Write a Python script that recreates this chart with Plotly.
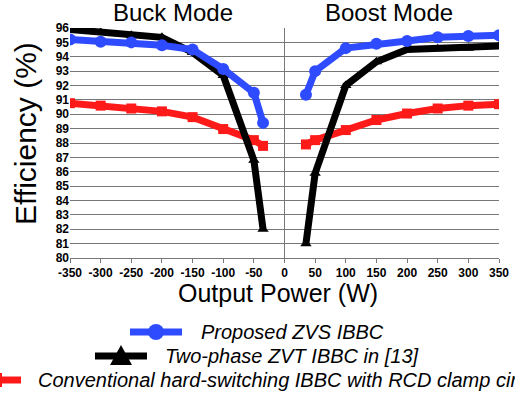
import plotly.graph_objects as go

buck_p = [-350, -300, -250, -200, -150, -100, -50, -35]
boost_p = [35, 50, 100, 150, 200, 250, 300, 350]

prop_buck = [95.2, 95.05, 95.0, 94.8, 94.5, 93.15, 91.5, 89.4]
prop_boost = [91.35, 93.0, 94.6, 94.9, 95.1, 95.35, 95.45, 95.5]

zvt_buck = [95.9, 95.7, 95.5, 95.35, 94.3, 92.7, 86.8, 82.0]
zvt_boost = [81.0, 85.9, 92.0, 93.65, 94.5, 94.55, 94.6, 94.75]

hard_buck = [90.77, 90.6, 90.4, 90.2, 89.8, 88.97, 88.2, 87.8]
hard_boost = [87.9, 88.2, 88.9, 89.6, 90.05, 90.4, 90.6, 90.7]

names = ["Proposed ZVS IBBC", "Two-phase ZVT IBBC in [13]",
         "Conventional hard-switching IBBC with RCD clamp circuit"]
y_ticks = list(range(80, 97))
x_ticks = list(range(-350, 351, 50))

FONT = "Liberation Sans, Arial, sans-serif"
BLUE, BLACK, RED = "#2f4bff", "#000000", "#ff1a1a"

# plot-area geometry (pixels) used to place the hand-drawn legend
L, R, T, B = 70, 499, 28, 258
W, H = R - L, B - T


def px(xp):
    return (xp - L) / W


def py(yp):
    return (B - yp) / H


fig = go.Figure()
x_all = buck_p + [None] + boost_p
series = [
    (hard_buck, hard_boost, RED, "square", 10, names[2]),
    (zvt_buck, zvt_boost, BLACK, "triangle-up", 10, names[1]),
    (prop_buck, prop_boost, BLUE, "circle", 12, names[0]),
]
for yb, yo, col, sym, ms, nm in series:
    fig.add_trace(go.Scatter(
        x=x_all, y=yb + [None] + yo, mode="lines+markers", name=nm,
        line=dict(color=col, width=7), connectgaps=False,
        marker=dict(symbol=sym, size=ms, color=col),
        showlegend=False,
    ))

shapes = []
annotations = [
    dict(text="Buck Mode", x=px(172.5), y=py(13), xref="paper", yref="paper",
         xanchor="center", yanchor="middle", showarrow=False,
         font=dict(family=FONT, size=24)),
    dict(text="Boost Mode", x=px(388.5), y=py(13), xref="paper", yref="paper",
         xanchor="center", yanchor="middle", showarrow=False,
         font=dict(family=FONT, size=24)),
    dict(text="Output Power (W)", x=px(277.5), y=py(293), xref="paper", yref="paper",
         xanchor="center", yanchor="middle", showarrow=False,
         font=dict(family=FONT, size=25)),
    dict(text="Efficiency (%)", x=px(25), y=py(134), xref="paper", yref="paper",
         xanchor="center", yanchor="middle", showarrow=False, textangle=-90,
         font=dict(family=FONT, size=30)),
]

# legend rows: (line x0, line x1, row y, text x, colour, marker kind, label)
legend_rows = [
    (130, 182, 332, 199, BLUE, "circle", names[0]),
    (95, 147, 356, 163, BLACK, "triangle", names[1]),
    (-31, 21, 380, 36, RED, "square", names[2]),
]
for x0, x1, yr, tx, col, kind, label in legend_rows:
    shapes.append(dict(type="line", xref="paper", yref="paper",
                       x0=px(x0), x1=px(x1), y0=py(yr), y1=py(yr),
                       line=dict(color=col, width=7)))
    cx = (x0 + x1) / 2
    if kind == "circle":
        r = 8
        shapes.append(dict(type="circle", xref="paper", yref="paper",
                           x0=px(cx - r), x1=px(cx + r), y0=py(yr - r), y1=py(yr + r),
                           fillcolor=col, line=dict(width=0)))
    elif kind == "triangle":
        path = "M %f,%f L %f,%f L %f,%f Z" % (px(cx - 11), py(yr + 9), px(cx + 11), py(yr + 9),
                                               px(cx), py(yr - 11))
        shapes.append(dict(type="path", xref="paper", yref="paper", path=path,
                           fillcolor=col, line=dict(width=0)))
    else:
        r = 7
        shapes.append(dict(type="rect", xref="paper", yref="paper",
                           x0=px(cx - r), x1=px(cx + r), y0=py(yr - r), y1=py(yr + r),
                           fillcolor=col, line=dict(width=0)))
    annotations.append(dict(text=label, x=px(tx), y=py(yr), xref="paper", yref="paper",
                            xanchor="left", yanchor="middle", showarrow=False,
                            font=dict(family=FONT, size=20, style="italic", color="black")))

fig.update_layout(
    width=515, height=397,
    margin=dict(l=L, r=515 - R, t=T, b=397 - B, autoexpand=False),
    paper_bgcolor="white", plot_bgcolor="white",
    font=dict(family=FONT, color="black"),
    showlegend=False,
    xaxis=dict(range=[-350, 350], tickvals=x_ticks, ticktext=[str(v) for v in x_ticks],
               showgrid=False, zeroline=True, zerolinecolor="#777", zerolinewidth=1,
               showline=True, linecolor="#777", linewidth=1,
               ticks="outside", ticklen=4, tickcolor="#777",
               tickfont=dict(family=FONT, size=12, weight="bold")),
    yaxis=dict(range=[80, 96], tickvals=y_ticks, ticktext=[str(v) for v in y_ticks],
               showgrid=True, gridcolor="#777", gridwidth=1, zeroline=False,
               showline=False, ticks="", ticklen=0,
               tickfont=dict(family=FONT, size=12, weight="bold")),
    shapes=shapes,
    annotations=annotations,
)
fig.write_html("out.html")
